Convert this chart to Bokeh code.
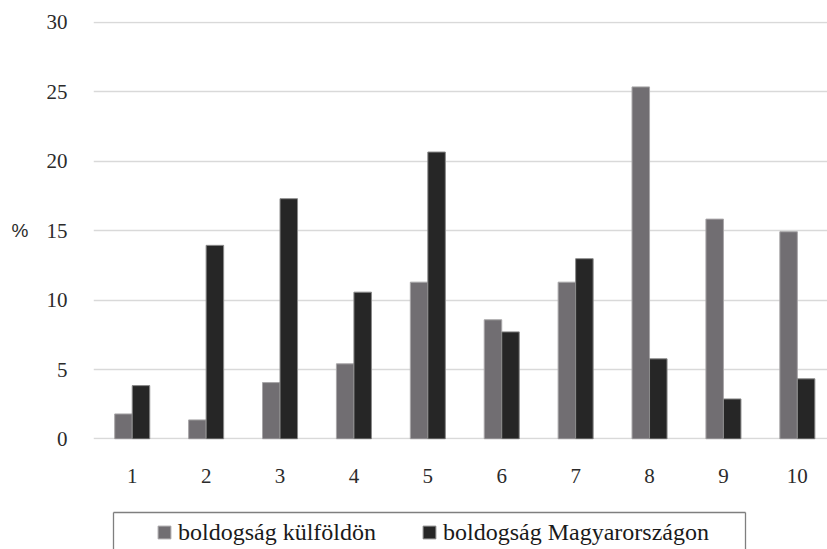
from bokeh.plotting import figure
from bokeh.layouts import column
from bokeh.models import (ColumnDataSource, FixedTicker, Range1d, Legend, LegendItem)
from bokeh.transform import dodge
from bokeh.embed import file_html
from bokeh.resources import INLINE

# data
scores = [1, 2, 3, 4, 5, 6, 7, 8, 9, 10]
abroad = [1.8, 1.37, 4.06, 5.41, 11.29, 8.58, 11.29, 25.35, 15.83, 14.92]
hungary = [3.84, 13.94, 17.30, 10.57, 20.66, 7.71, 12.98, 5.77, 2.88, 4.33]
series_names = ["boldogság külföldön", "boldogság Magyarországon"]
y_ticks = [0, 5, 10, 15, 20, 25, 30]

GRAY = "#716e72"
DARK = "#262626"
SERIF = "Liberation Serif"
TXT = "#2b2b2b"

src = ColumnDataSource(dict(x=scores, a=abroad, h=hungary))

p = figure(width=827, height=500, output_backend="svg", toolbar_location=None,
           x_range=Range1d(0.476, 10.408), y_range=Range1d(-0.04, 30.06),
           min_border_left=93, min_border_right=0, min_border_top=21,
           min_border_bottom=61)
p.outline_line_color = None

bw = 0.237
r1 = p.vbar(x=dodge("x", -bw / 2), top="a", width=bw, source=src,
            fill_color=GRAY, line_color="#a8a6a8", line_width=1)
r2 = p.vbar(x=dodge("x", bw / 2), top="h", width=bw, source=src,
            fill_color=DARK, line_color="#8a8a8a", line_width=1)

p.xaxis.ticker = FixedTicker(ticks=scores)
p.yaxis.ticker = FixedTicker(ticks=y_ticks)
for ax in (p.xaxis, p.yaxis):
    ax.axis_line_color = None
    ax.major_tick_line_color = None
    ax.minor_tick_line_color = None
    ax.major_tick_out = 0
    ax.major_label_text_font = SERIF
    ax.major_label_text_font_size = "21px"
    ax.major_label_text_color = TXT
p.yaxis.major_label_standoff = 26
p.xaxis.major_label_standoff = 29

p.yaxis.axis_label = "%"
p.yaxis.axis_label_text_font = "Liberation Sans"
p.yaxis.axis_label_text_font_size = "19px"
p.yaxis.axis_label_text_font_style = "normal"
p.yaxis.axis_label_text_color = TXT
p.yaxis.axis_label_standoff = 15
try:
    p.yaxis.axis_label_orientation = "horizontal"
except Exception:
    pass

p.xgrid.grid_line_color = None
p.ygrid.grid_line_color = "#d9d9d9"
p.ygrid.grid_line_width = 1.3

# legend strip below the chart (ranges in pixels of this strip)
q = figure(width=827, height=49, output_backend="svg", toolbar_location=None,
           x_range=Range1d(0, 734), y_range=Range1d(0, 49),
           x_axis_location=None, y_axis_location=None,
           min_border_left=93, min_border_right=0, min_border_top=0,
           min_border_bottom=0)
q.outline_line_color = None
q.grid.visible = False
q.segment(x0=[20, 20, 652], y0=[0, 37, 0], x1=[20, 652, 652], y1=[37, 37, 37],
          line_color="#7f7f7f", line_width=1.3)
# invisible proxies that only supply the legend swatches
psrc = ColumnDataSource(dict(x=scores[:1], a=abroad[:1], h=hungary[:1]))
l1 = q.vbar(x="x", top="a", width=1, source=psrc, fill_color=GRAY,
            line_color="#a8a6a8", visible=False)
l2 = q.vbar(x="x", top="h", width=1, source=psrc, fill_color=DARK,
            line_color="#8a8a8a", visible=False)

legend = Legend(items=[LegendItem(label=series_names[0], renderers=[l1]),
                       LegendItem(label=series_names[1], renderers=[l2])],
                orientation="horizontal", location=(63, 3),
                glyph_width=16, glyph_height=16, label_standoff=6, spacing=45,
                padding=0, margin=0, label_height=28,
                border_line_color=None, background_fill_alpha=0,
                inactive_fill_alpha=0,
                label_text_font=SERIF, label_text_font_size="24px",
                label_text_color="#1a1a1a")
q.add_layout(legend, "center")

layout = column(p, q, spacing=0)
open("out.html", "w").write(file_html(layout, INLINE))
